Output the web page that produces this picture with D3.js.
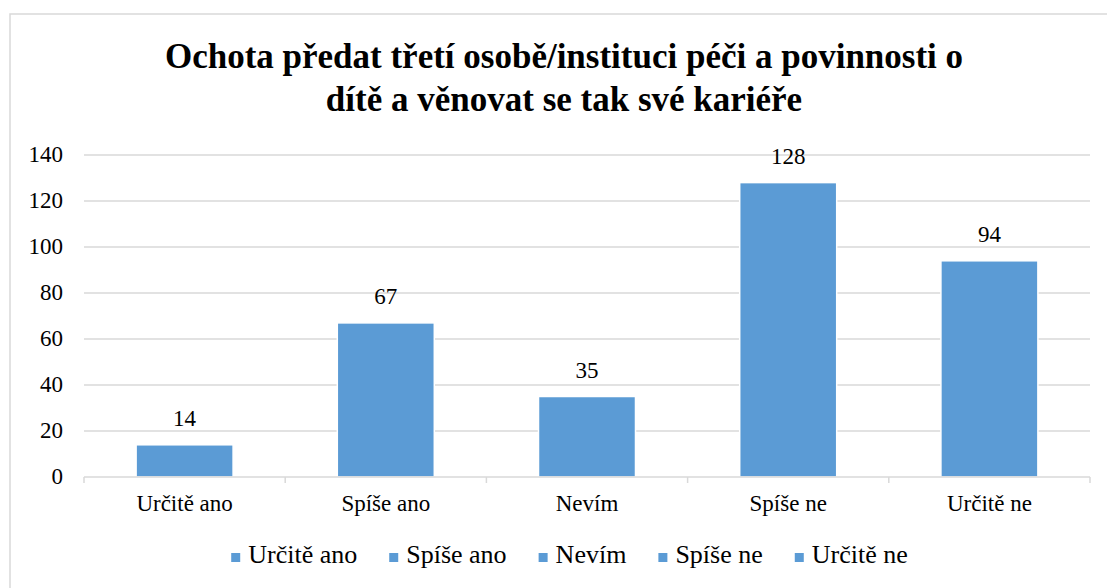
<!DOCTYPE html>
<html>
<head>
<meta charset="utf-8">
<script src="https://cdn.jsdelivr.net/npm/d3@7"></script>
</head>
<body style="margin:0; background:#fff; font-family: 'Times New Roman'">
<script>
// data
var categories = ["Určitě ano", "Spíše ano", "Nevím", "Spíše ne", "Určitě ne"];
var counts = [14, 67, 35, 128, 94];
var yTicks = [0, 20, 40, 60, 80, 100, 120, 140];
var titleLines = ["Ochota předat třetí osobě/instituci péči a povinnosti o",
                  "dítě a věnovat se tak své kariéře"];

var W = 1107, H = 588;
var plot = {left: 84, right: 1090, top: 155, bottom: 477};
var barColor = "#5b9bd5", gridColor = "#d9d9d9";

var svg = d3.select("body").append("svg")
    .attr("width", W)
    .attr("height", H)
    .attr("font-family", "Times New Roman");

// chart border
svg.append("rect")
    .attr("x", 10).attr("y", 14)
    .attr("width", 1130).attr("height", 620)
    .attr("fill", "#fff")
    .attr("stroke", gridColor)
    .attr("stroke-width", 1.5);

var xScale = d3.scaleBand()
    .domain(categories)
    .range([plot.left, plot.right])
    .paddingInner(0.518)
    .paddingOuter(0.259);

var yScale = d3.scaleLinear()
    .domain([0, 140])
    .range([plot.bottom, plot.top]);

// title
svg.selectAll("text.title")
    .data(titleLines)
    .enter()
    .append("text")
    .attr("class", "title")
    .attr("x", 564)
    .attr("y", function(d, i) { return 68 + i * 43; })
    .attr("text-anchor", "middle")
    .attr("font-weight", "bold")
    .attr("font-size", 35)
    .text(function(d) { return d; });

// gridlines
svg.append("g")
    .selectAll("line")
    .data(yTicks.slice(1))
    .enter()
    .append("line")
    .attr("x1", plot.left).attr("x2", plot.right)
    .attr("y1", function(d) { return yScale(d); })
    .attr("y2", function(d) { return yScale(d); })
    .attr("stroke", gridColor)
    .attr("stroke-width", 1.3);

// y axis labels
var yAxis = d3.axisLeft(yScale).tickValues(yTicks).tickSize(0).tickPadding(21);
var gy = svg.append("g")
    .attr("transform", "translate(" + plot.left + ",0)")
    .call(yAxis)
    .attr("font-family", "Times New Roman")
    .attr("font-size", 23);
gy.select(".domain").remove();
gy.selectAll("text")
    .attr("dy", 6)
    .attr("fill", "#000");

// bars
svg.append("g")
    .selectAll("rect")
    .data(counts)
    .enter()
    .append("rect")
    .attr("x", function(d, i) { return xScale(categories[i]); })
    .attr("y", function(d) { return yScale(d); })
    .attr("width", xScale.bandwidth())
    .attr("height", function(d) { return plot.bottom - yScale(d); })
    .attr("fill", barColor)
    .attr("stroke", "#fff")
    .attr("stroke-width", 1.5);

// value labels
svg.append("g")
    .attr("font-size", 23)
    .selectAll("text")
    .data(counts)
    .enter()
    .append("text")
    .attr("x", function(d, i) { return xScale(categories[i]) + xScale.bandwidth() / 2; })
    .attr("y", function(d) { return yScale(d) - 19; })
    .attr("text-anchor", "middle")
    .text(function(d) { return d; });

// x axis line + boundary ticks
var gx = svg.append("g");
gx.append("line")
    .attr("x1", plot.left).attr("x2", plot.right)
    .attr("y1", plot.bottom).attr("y2", plot.bottom)
    .attr("stroke", gridColor)
    .attr("stroke-width", 1.5);
var bounds = categories.map(function(c) { return xScale(c) - xScale.step() * xScale.paddingInner() / 2; });
bounds.push(plot.right);
gx.selectAll("line.tick")
    .data(bounds)
    .enter()
    .append("line")
    .attr("class", "tick")
    .attr("x1", function(d) { return d; }).attr("x2", function(d) { return d; })
    .attr("y1", plot.bottom).attr("y2", plot.bottom + 6)
    .attr("stroke", gridColor)
    .attr("stroke-width", 1.5);

// category labels
var xAxis = d3.axisBottom(xScale).tickSize(0).tickPadding(0);
var gxl = svg.append("g")
    .attr("transform", "translate(0," + plot.bottom + ")")
    .call(xAxis)
    .attr("font-family", "Times New Roman")
    .attr("font-size", 23);
gxl.select(".domain").remove();
gxl.selectAll("text")
    .attr("y", 34)
    .attr("dy", 0)
    .attr("fill", "#000");

// legend
var legend = svg.append("g").attr("font-size", 26);
var items = legend.selectAll("g")
    .data(categories)
    .enter()
    .append("g");
items.append("rect")
    .attr("width", 9).attr("height", 9)
    .attr("y", 553)
    .attr("fill", barColor);
items.append("text")
    .attr("x", 17)
    .attr("y", 563)
    .text(function(d) { return d; });

var xpos = 0;
items.each(function() {
    var w = d3.select(this).select("text").node().getComputedTextLength();
    d3.select(this).attr("transform", "translate(" + xpos + ",0)");
    xpos += 17 + w + 32;
});
var legendWidth = xpos - 32;
legend.attr("transform", "translate(" + (569.5 - legendWidth / 2) + ",0)");
</script>
</body>
</html>
